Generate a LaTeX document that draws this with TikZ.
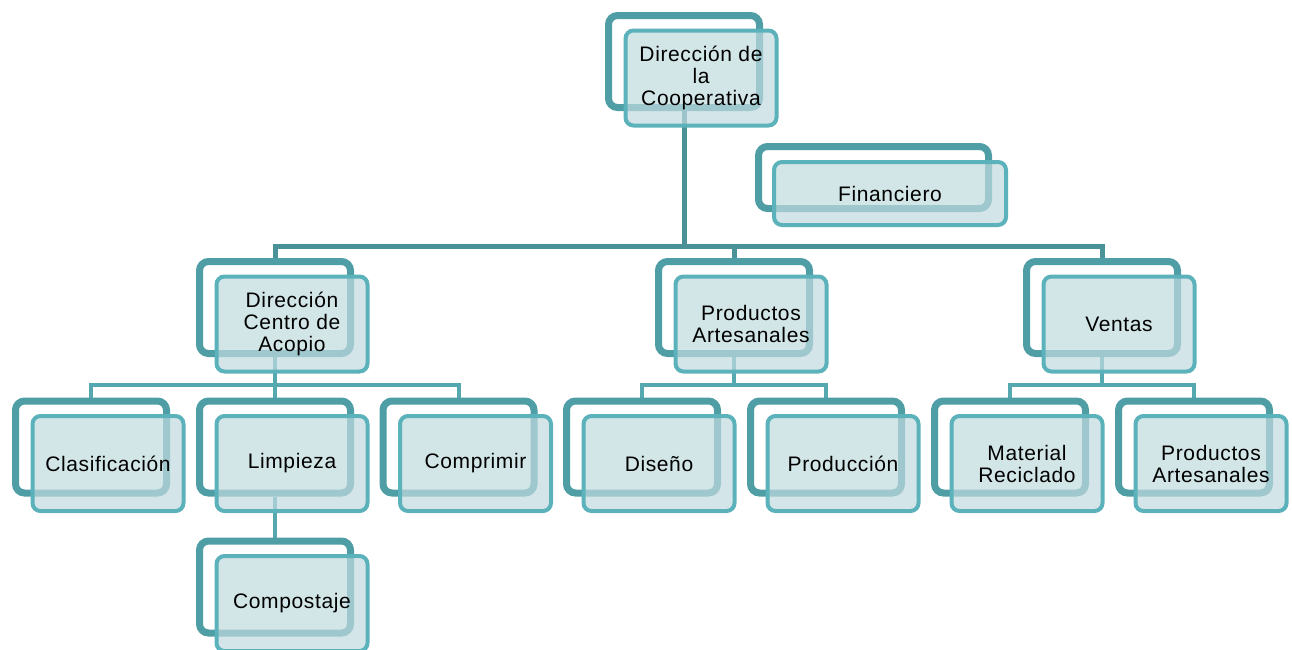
\documentclass[tikz,border=0pt]{standalone}
\usepackage{fontspec}
\setmainfont{Liberation Sans}[LetterSpace=3]
\usepackage{xcolor}
\usepackage{tikz}
\usetikzlibrary{shadows, backgrounds}
\definecolor{tealdark}{HTML}{4F9EA6}
\definecolor{teallight}{HTML}{5CB2BB}
\definecolor{tealfill}{HTML}{C0DADE}
\definecolor{tealline}{HTML}{4A9198}
\definecolor{tealsub}{HTML}{55A8B0}
\tikzstyle{back} = [rectangle, rounded corners=9pt, minimum width=151pt, minimum height=92pt, draw=tealdark, line width=7pt, fill=white, drop shadow={shadow xshift=-2pt, shadow yshift=-3pt, opacity=0.12}]
\tikzstyle{front} = [rectangle, rounded corners=8pt, minimum width=151pt, minimum height=95pt, draw=teallight, line width=4pt, fill=tealfill, fill opacity=0.7, text opacity=1, align=center, font=\fontsize{21}{22}\selectfont, xshift=17pt, yshift=-16.5pt]
\tikzstyle{link} = [draw=tealsub, line width=4pt]

\begin{document}
\begin{tikzpicture}[x=1pt, y=-1pt]
		\clip (0,0) rectangle (1292,649);
		\coordinate (main bus) at (0,246);
		\coordinate (sub bus) at (0,385);
		% back boxes
		\node (Cooperativa)[back] at (684,61.5){};
		\node (Financiero)[back, minimum width=230pt, minimum height=62pt] at (873.5,177.5){};
		\node (Acopio)[back] at (275,307.5){};
		\node (Artesanales)[back] at (734,307.5){};
		\node (Ventas)[back] at (1102,307.5){};
		\node (Clasificacion)[back] at (91,447){};
		\node (Limpieza)[back] at (275,447){};
		\node (Comprimir)[back] at (458.5,447){};
		\node (Diseno)[back] at (642,447){};
		\node (Produccion)[back] at (826,447){};
		\node (Reciclado)[back] at (1010,447){};
		\node (Productos)[back] at (1194,447){};
		\node (Compostaje)[back] at (275,587){};
		% front boxes
		\node (Cooperativa text)[front] at (Cooperativa){Dirección de\\la\\Cooperativa};
		\node (Financiero text)[front, minimum width=232pt, minimum height=63pt, xshift=-0.5pt, yshift=0.5pt] at (Financiero){Financiero};
		\node (Acopio text)[front] at (Acopio){Dirección\\Centro de\\Acopio};
		\node (Artesanales text)[front] at (Artesanales){Productos\\Artesanales};
		\node (Ventas text)[front] at (Ventas){Ventas};
		\node (Clasificacion text)[front] at (Clasificacion){Clasificación};
		\node (Limpieza text)[front] at (Limpieza){Limpieza};
		\node (Comprimir text)[front] at (Comprimir){Comprimir};
		\node (Diseno text)[front] at (Diseno){Diseño};
		\node (Produccion text)[front] at (Produccion){Producción};
		\node (Reciclado text)[front] at (Reciclado){Material\\Reciclado};
		\node (Productos text)[front] at (Productos){Productos\\Artesanales};
		\node (Compostaje text)[front] at (Compostaje){Compostaje};
		% connectors
		\begin{scope}[on background layer]
		\draw [link, draw=tealline, line width=5pt] (Cooperativa) -- (Cooperativa |- main bus);
		\draw [link, draw=tealline, line width=5pt] (Acopio) |- (Ventas |- main bus) -- (Ventas);
		\draw [link, draw=tealline, line width=5pt] (Artesanales |- main bus) -- (Artesanales);
		\draw [link] (Clasificacion) |- (Comprimir |- sub bus) -- (Comprimir);
		\draw [link] (Acopio) -- (Limpieza) -- (Compostaje);
		\draw [link] (Diseno) |- (Produccion |- sub bus) -- (Produccion);
		\draw [link] (Artesanales) -- (Artesanales |- sub bus);
		\draw [link] (Reciclado) |- (Productos |- sub bus) -- (Productos);
		\draw [link] (Ventas) -- (Ventas |- sub bus);
		\end{scope}
	\end{tikzpicture}
\end{document}
